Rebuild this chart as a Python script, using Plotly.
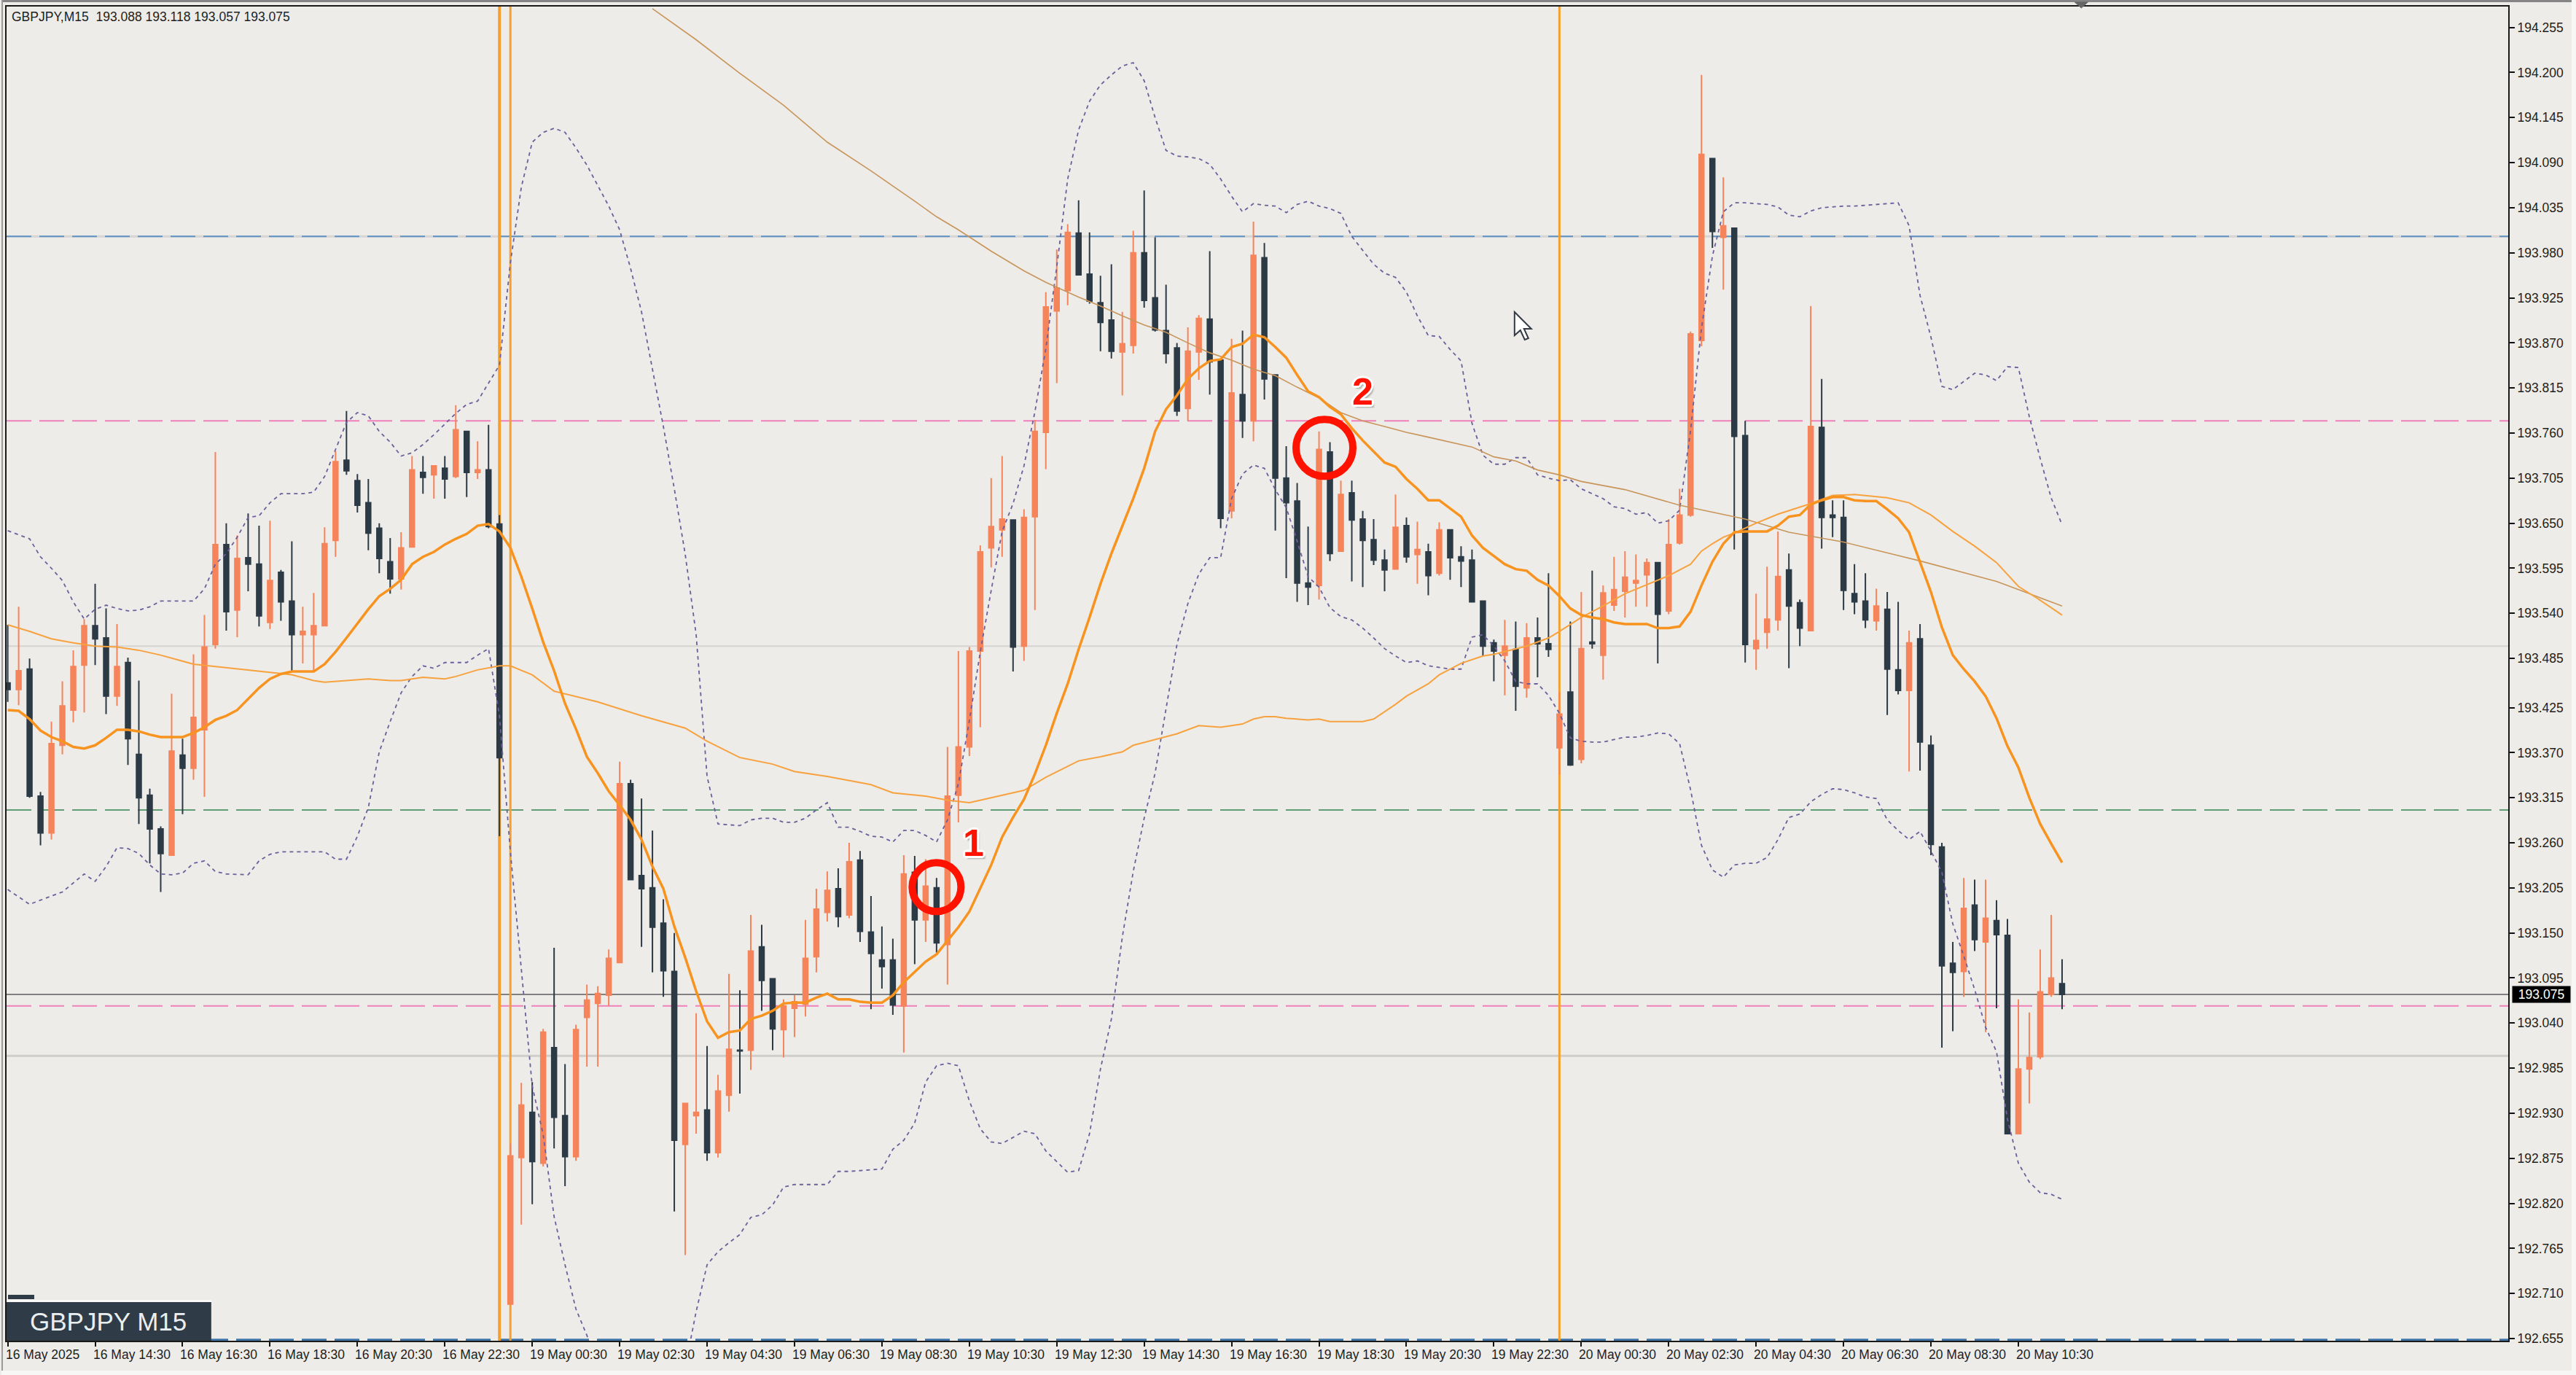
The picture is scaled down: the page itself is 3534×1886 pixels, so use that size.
import plotly.graph_objects as go

W, H = 3534, 1886
ML, MR, MT, MB = 7, 93, 9, 47

opens = [
193.455,193.447,193.472,193.317,193.272,193.379,193.422,193.477,193.525,193.510,
193.439,193.480,193.368,193.318,193.277,193.245,193.367,193.351,193.398,193.502,
193.624,193.544,193.608,193.600,193.529,193.590,193.555,193.514,193.514,193.525,
193.629,193.727,193.702,193.675,193.644,193.603,193.582,193.621,193.712,193.709,
193.717,193.707,193.762,193.712,193.715,193.649,192.697,192.876,192.931,192.869,
193.010,192.927,192.877,193.047,193.064,193.074,193.114,193.332,193.220,193.205,
193.162,193.103,192.892,192.927,192.934,192.882,192.952,193.007,193.007,193.133,
193.094,193.032,193.058,193.063,193.121,193.175,193.204,193.172,193.239,193.151,
193.117,193.117,193.061,193.224,193.166,193.205,193.136,193.318,193.377,193.494,
193.620,193.642,193.654,193.500,193.658,193.761,193.909,193.934,194.004,193.954,
193.919,193.898,193.859,193.867,193.980,193.925,193.885,193.864,193.790,193.859,
193.899,193.849,193.665,193.807,193.775,193.974,193.831,193.705,193.677,193.577,
193.574,193.737,193.616,193.687,193.655,193.630,193.605,193.594,193.647,193.612,
193.615,193.589,193.642,193.609,193.605,193.555,193.504,193.489,193.496,193.449,
193.510,193.503,193.376,193.444,193.362,193.505,193.489,193.550,193.567,193.577,
193.587,193.602,193.543,193.626,193.660,193.873,194.095,193.999,194.010,193.757,
193.497,193.517,193.532,193.593,193.553,193.519,193.767,193.660,193.657,193.564,
193.555,193.531,193.545,193.471,193.446,193.509,193.379,193.255,193.113,193.103,
193.184,193.139,193.165,193.147,192.905,192.984,192.999,193.075,193.088]
highs = [
193.526,193.548,193.485,193.322,193.408,193.457,193.495,193.533,193.576,193.546,
193.527,193.486,193.458,193.326,193.280,193.442,193.387,193.490,193.538,193.737,
193.650,193.635,193.662,193.647,193.653,193.593,193.628,193.548,193.565,193.645,
193.738,193.787,193.710,193.704,193.650,193.632,193.639,193.732,193.732,193.720,
193.732,193.794,193.762,193.750,193.770,193.660,192.893,192.967,192.968,193.033,
193.132,192.990,193.038,193.087,193.085,193.130,193.359,193.337,193.314,193.275,
193.191,193.150,192.942,193.052,193.012,192.977,193.100,193.080,193.172,193.160,
193.094,193.069,193.074,193.166,193.204,193.225,193.229,193.260,193.250,193.195,
193.158,193.143,193.245,193.244,193.240,193.217,193.377,193.494,193.499,193.623,
193.705,193.732,193.654,193.667,193.776,193.932,193.984,194.015,194.044,194.005,
193.952,193.966,193.908,194.007,194.056,193.999,193.941,193.870,193.889,193.904,
193.982,193.849,193.875,193.885,194.018,193.992,193.831,193.744,193.699,193.646,
193.762,193.749,193.702,193.702,193.665,193.655,193.618,193.685,193.657,193.652,
193.625,193.651,193.642,193.622,193.618,193.555,193.508,193.532,193.530,193.528,
193.535,193.589,193.444,193.530,193.566,193.592,193.574,193.609,193.616,193.612,
193.607,193.602,193.655,193.692,193.884,194.197,194.095,194.072,194.010,193.775,
193.564,193.597,193.640,193.613,193.557,193.915,193.826,193.678,193.678,193.600,
193.589,193.570,193.566,193.554,193.519,193.527,193.391,193.260,193.139,193.217,
193.215,193.215,193.190,193.167,193.069,193.053,193.130,193.172,193.118]
lows = [
193.432,193.428,193.315,193.257,193.264,193.368,193.407,193.419,193.477,193.417,
193.427,193.355,193.283,193.235,193.200,193.244,193.295,193.337,193.316,193.497,
193.519,193.511,193.567,193.524,193.521,193.531,193.469,193.479,193.469,193.525,
193.609,193.709,193.663,193.617,193.589,193.564,193.569,193.621,193.686,193.680,
193.680,193.705,193.682,193.704,193.644,193.268,192.697,192.794,192.819,192.865,
192.887,192.841,192.872,192.987,192.987,193.061,193.114,193.215,193.133,193.102,
193.072,192.810,192.757,192.905,192.872,192.876,192.932,192.954,192.983,193.055,
193.007,192.998,193.023,193.048,193.102,193.164,193.157,193.168,193.139,193.057,
193.082,193.050,193.004,193.112,193.139,193.126,193.087,193.285,193.366,193.401,
193.596,193.609,193.469,193.482,193.544,193.716,193.821,193.916,193.953,193.918,
193.860,193.851,193.806,193.857,193.913,193.884,193.845,193.781,193.775,193.825,
193.807,193.644,193.656,193.754,193.750,193.801,193.641,193.583,193.554,193.550,
193.557,193.604,193.616,193.579,193.572,193.599,193.567,193.594,193.602,193.576,
193.562,193.586,193.581,193.572,193.554,193.488,193.457,193.440,193.421,193.437,
193.462,193.487,193.343,193.354,193.357,193.497,193.459,193.543,193.535,193.548,
193.548,193.479,193.539,193.624,193.658,193.866,193.986,193.935,193.618,193.480,
193.471,193.497,193.519,193.473,193.500,193.519,193.619,193.633,193.544,193.539,
193.522,193.519,193.416,193.441,193.347,193.348,193.245,193.010,193.030,193.072,
193.128,193.029,193.058,192.905,192.905,192.942,192.996,193.072,193.057]
closes = [
193.447,193.470,193.317,193.272,193.381,193.427,193.475,193.525,193.509,193.439,
193.475,193.387,193.315,193.277,193.247,193.372,193.351,193.413,193.499,193.624,
193.542,193.607,193.600,193.537,193.580,193.554,193.514,193.518,193.525,193.625,
193.725,193.714,193.672,193.638,193.607,193.582,193.620,193.715,193.706,193.720,
193.704,193.764,193.712,193.715,193.646,193.364,192.878,192.940,192.871,193.029,
192.925,192.877,193.032,193.068,193.076,193.119,193.332,193.215,193.204,193.157,
193.104,192.897,192.942,192.931,192.882,192.957,193.008,193.006,193.128,193.092,
193.033,193.061,193.066,193.119,193.179,193.202,193.170,193.237,193.152,193.125,
193.109,193.062,193.222,193.166,193.207,193.138,193.317,193.377,193.494,193.615,
193.646,193.655,193.499,193.657,193.762,193.914,193.937,194.005,193.953,193.921,
193.895,193.860,193.869,193.980,193.922,193.886,193.857,193.787,193.860,193.900,
193.847,193.656,193.809,193.775,193.977,193.826,193.705,193.675,193.577,193.572,
193.740,193.613,193.685,193.654,193.629,193.605,193.593,193.645,193.609,193.618,
193.586,193.642,193.608,193.604,193.554,193.500,193.494,193.500,193.451,193.510,
193.503,193.496,193.417,193.355,193.497,193.503,193.565,193.569,193.584,193.580,
193.602,193.539,193.624,193.660,193.881,194.100,194.006,194.013,193.756,193.502,
193.507,193.533,193.585,193.549,193.522,193.768,193.657,193.657,193.568,193.554,
193.532,193.549,193.472,193.446,193.504,193.383,193.258,193.110,193.102,193.180,
193.142,193.168,193.148,192.905,192.984,192.998,193.078,193.095,193.075]

ma_fast = [
193.422,193.421,193.411,193.397,193.389,193.384,193.377,193.375,193.379,193.388,
193.398,193.398,193.396,193.392,193.389,193.389,193.389,193.394,193.401,193.410,
193.415,193.422,193.436,193.449,193.460,193.466,193.469,193.469,193.469,193.478,
193.493,193.510,193.528,193.545,193.561,193.570,193.581,193.600,193.609,193.615,
193.624,193.631,193.637,193.647,193.649,193.640,193.620,193.585,193.546,193.505,
193.470,193.430,193.399,193.365,193.345,193.323,193.306,193.288,193.264,193.231,
193.204,193.158,193.120,193.079,193.042,193.022,193.029,193.031,193.045,193.049,
193.055,193.064,193.065,193.065,193.071,193.076,193.069,193.069,193.066,193.065,
193.065,193.074,193.090,193.103,193.115,193.124,193.140,193.157,193.176,193.204,
193.233,193.267,193.291,193.313,193.344,193.379,193.418,193.454,193.496,193.535,
193.576,193.613,193.647,193.680,193.717,193.762,193.789,193.806,193.826,193.839,
193.848,193.850,193.865,193.869,193.880,193.877,193.865,193.852,193.831,193.811,
193.804,193.792,193.783,193.766,193.751,193.737,193.724,193.719,193.704,193.692,
193.678,193.678,193.668,193.658,193.635,193.620,193.610,193.600,193.594,193.592,
193.581,193.574,193.561,193.546,193.538,193.535,193.533,193.529,193.527,193.527,
193.527,193.522,193.522,193.524,193.542,193.574,193.603,193.625,193.639,193.640,
193.640,193.640,193.647,193.658,193.660,193.673,193.678,193.682,193.682,193.678,
193.677,193.677,193.667,193.656,193.639,193.602,193.566,193.523,193.489,193.472,
193.457,193.439,193.412,193.378,193.352,193.315,193.283,193.259,193.236]

ma_mid_bar = [0,2,4,6,8,10,12,14,17,20,22,24,26,28,29,31,33,35,36,38,40,41,43,45,46,48,50,54,58,62,64,67,70,72,75,79,81,84,86,88,91,93,95,98,100,102,103,105,107,109,111,113,114,115,116,117,118,119,120,121,124,125,127,128,130,131,133,135,136,138,139,141,142,144,146,148,150,152,154,155,156,157,158,160,162,165,167,169,172,174,176,178,180,182,184,186,188]
ma_mid = [193.526,193.518,193.509,193.504,193.500,193.499,193.495,193.489,193.478,193.474,193.471,193.468,193.465,193.458,193.456,193.458,193.460,193.458,193.458,193.462,193.460,193.463,193.471,193.476,193.476,193.465,193.445,193.432,193.415,193.400,193.384,193.364,193.356,193.347,193.341,193.331,193.321,193.317,193.312,193.309,193.318,193.324,193.340,193.360,193.365,193.371,193.379,193.386,193.393,193.403,193.401,193.405,193.411,193.414,193.414,193.412,193.411,193.410,193.411,193.408,193.408,193.411,193.429,193.439,193.454,193.465,193.479,193.488,193.490,193.497,193.500,193.510,193.518,193.535,193.549,193.564,193.575,193.586,193.600,193.616,193.625,193.633,193.638,193.650,193.661,193.674,193.684,193.685,193.681,193.675,193.660,193.640,193.622,193.602,193.573,193.556,193.538]

ma_long_bar = [59,63,67,71,75,79,83,85,87,90,93,95,98,100,102,104,106,108,110,112,114,116,118,120,122,124,126,128,130,132,134,136,138,140,142,144,148,153,159,163,168,175,182,185,188]
ma_long = [194.278,194.240,194.199,194.160,194.115,194.080,194.043,194.024,194.008,193.982,193.958,193.944,193.926,193.915,193.903,193.892,193.883,193.870,193.858,193.849,193.838,193.830,193.816,193.803,193.785,193.775,193.768,193.761,193.755,193.749,193.743,193.731,193.726,193.715,193.709,193.701,193.691,193.672,193.655,193.639,193.627,193.604,193.579,193.564,193.549]

bb_up_bar = [0,2,3,4,5,6,7,8,9,10,11,12,13,14,17,18,19,20,21,22,23,24,25,27,28,29,30,31,32,33,34,35,36,37,38,39,40,41,42,43,45,46,47,48,49,50,51,52,53,54,55,56,57,58,59,60,61,62,63,64,65,66,67,68,69,70,71,72,73,74,75,76,77,78,79,80,81,82,83,84,85,86,87,88,89,90,91,92,93,94,95,96,97,98,99,100,101,102,103,104,105,106,107,108,109,110,111,112,113,114,115,116,117,118,119,120,121,122,123,124,125,126,127,128,129,130,131,132,133,134,135,136,137,138,139,140,141,142,143,144,145,146,147,148,149,150,151,152,153,154,155,156,157,158,159,160,161,162,163,164,165,166,167,168,169,170,171,172,173,174,175,176,177,178,179,180,181,182,183,184,185,186,187,188]
bb_up = [193.641,193.631,193.609,193.595,193.580,193.554,193.533,193.545,193.550,193.546,193.543,193.544,193.548,193.555,193.555,193.570,193.600,193.613,193.633,193.657,193.659,193.675,193.686,193.686,193.688,193.707,193.740,193.773,193.785,193.781,193.762,193.749,193.732,193.736,193.746,193.758,193.771,193.784,193.795,193.799,193.843,193.968,194.060,194.115,194.127,194.132,194.127,194.108,194.087,194.062,194.037,194.008,193.961,193.908,193.839,193.768,193.692,193.612,193.514,193.341,193.283,193.282,193.281,193.288,193.290,193.290,193.285,193.285,193.290,193.300,193.309,193.279,193.279,193.274,193.268,193.267,193.261,193.275,193.275,193.269,193.261,193.288,193.332,193.409,193.493,193.568,193.640,193.674,193.720,193.786,193.863,193.963,194.070,194.130,194.165,194.185,194.197,194.208,194.212,194.190,194.145,194.105,194.098,194.097,194.095,194.088,194.070,194.049,194.030,194.040,194.038,194.037,194.029,194.039,194.043,194.037,194.034,194.028,194.000,193.983,193.966,193.955,193.950,193.932,193.903,193.879,193.878,193.862,193.848,193.772,193.733,193.722,193.722,193.730,193.730,193.709,193.705,193.702,193.703,193.692,193.686,193.680,193.670,193.668,193.661,193.663,193.650,193.653,193.666,193.763,193.888,193.976,194.030,194.041,194.041,194.040,194.039,194.036,194.026,194.024,194.031,194.035,194.036,194.037,194.037,194.038,194.039,194.040,194.041,194.013,193.928,193.877,193.817,193.813,193.823,193.833,193.831,193.824,193.841,193.840,193.780,193.729,193.681,193.648]

bb_lo_bar = [0,2,3,5,7,8,9,10,11,12,13,14,15,16,17,18,19,20,22,23,24,25,29,30,31,32,33,34,35,36,37,38,39,40,42,43,44,45,46,47,48,49,50,51,52,53,54,58,62,63,64,65,66,67,68,69,70,71,72,74,75,76,77,79,80,81,82,83,84,85,86,87,88,89,90,91,93,94,95,97,98,99,100,101,102,103,104,105,106,107,108,109,110,111,112,113,114,115,116,117,118,119,120,121,122,123,124,125,126,127,128,129,130,131,132,133,134,135,136,137,138,139,140,141,142,143,144,145,146,147,148,149,150,151,152,153,154,155,156,157,158,159,160,161,162,163,164,165,166,167,168,169,170,171,172,173,174,175,176,177,178,179,180,181,182,183,184,185,186,187,188]
bb_lo = [193.203,193.185,193.190,193.200,193.222,193.213,193.231,193.254,193.253,193.247,193.233,193.222,193.221,193.223,193.235,193.238,193.225,193.222,193.221,193.238,193.246,193.249,193.249,193.240,193.240,193.268,193.303,193.371,193.408,193.443,193.463,193.476,193.473,193.480,193.480,193.489,193.497,193.415,193.249,193.108,192.963,192.904,192.804,192.745,192.691,192.659,192.620,None,192.620,192.688,192.745,192.761,192.772,192.782,192.803,192.806,192.818,192.840,192.843,192.843,192.843,192.859,192.859,192.861,192.862,192.886,192.897,192.918,192.968,192.988,192.991,192.988,192.945,192.911,192.895,192.893,192.908,192.905,192.884,192.858,192.860,192.905,192.984,193.045,193.145,193.225,193.290,193.345,193.422,193.502,193.552,193.588,193.608,193.608,193.680,193.710,193.721,193.717,193.691,193.669,193.628,193.585,193.572,193.547,193.536,193.532,193.522,193.510,193.497,193.488,193.480,193.482,193.476,193.474,193.472,193.472,193.511,193.514,193.500,193.482,193.457,193.454,193.454,193.440,193.418,193.388,193.384,193.383,193.383,193.386,193.389,193.389,193.391,193.394,193.393,193.381,193.325,193.257,193.227,193.218,193.233,193.235,193.235,193.242,193.264,193.291,193.295,193.310,193.319,193.326,193.325,193.321,193.316,193.314,193.288,193.275,193.264,193.274,193.250,193.224,193.161,193.122,193.081,193.035,193.005,192.923,192.869,192.846,192.833,192.831,192.825]

price_ticks = [194.255,194.200,194.145,194.090,194.035,193.980,193.925,193.870,193.815,193.760,193.705,193.650,193.595,193.540,193.485,193.425,193.370,193.315,193.260,193.205,193.150,193.095,193.040,192.985,192.930,192.875,192.820,192.765,192.710,192.655]
time_tick_bars = list(range(0, 185, 8))
time_labels = ["16 May 2025","16 May 14:30","16 May 16:30","16 May 18:30","16 May 20:30","16 May 22:30",
 "19 May 00:30","19 May 02:30","19 May 04:30","19 May 06:30","19 May 08:30","19 May 10:30","19 May 12:30",
 "19 May 14:30","19 May 16:30","19 May 18:30","19 May 20:30","19 May 22:30","20 May 00:30","20 May 02:30",
 "20 May 04:30","20 May 06:30","20 May 08:30","20 May 10:30"]
session_bars = [45, 46, 142]
session_widths = [4, 3, 3]
last_price = 193.075
header = "GBPJPY,M15  193.088 193.118 193.057 193.075"
badge = "GBPJPY M15"
marked_bars = [85.0, 120.5]
marked_prices = [193.206, 193.742]
marked_dia = [67, 78]
marked_labels = ["1", "2"]
marked_label_bars = [88.4, 124.0]
marked_label_prices = [193.260, 193.811]

n = len(opens)
assert n == 189 and len(highs) == n and len(lows) == n and len(closes) == n and len(ma_fast) == n
assert len(ma_mid_bar) == len(ma_mid) and len(ma_long_bar) == len(ma_long)
assert len(bb_up_bar) == len(bb_up), (len(bb_up_bar), len(bb_up))
assert len(bb_lo_bar) == len(bb_lo), (len(bb_lo_bar), len(bb_lo))
bars = list(range(n))

UP, DOWN = "#F6845B", "#2C3A46"
BG = "#EDECE8"
FONT = "Liberation Sans"

fig = go.Figure()
fig.add_trace(go.Candlestick(x=bars, open=opens, high=highs, low=lows, close=closes,
    increasing=dict(line=dict(color=UP, width=2), fillcolor=UP),
    decreasing=dict(line=dict(color=DOWN, width=2), fillcolor=DOWN),
    hoverinfo="skip", showlegend=False))
BB = dict(color="#6E5F9C", width=1.8, dash="5px,5px")
fig.add_trace(go.Scatter(x=bb_up_bar, y=bb_up, mode="lines", line=BB, hoverinfo="skip", showlegend=False))
fig.add_trace(go.Scatter(x=bb_lo_bar, y=bb_lo, mode="lines", line=BB, hoverinfo="skip", showlegend=False))
fig.add_trace(go.Scatter(x=ma_long_bar, y=ma_long, mode="lines", line=dict(color="#C8955A", width=1.6), hoverinfo="skip", showlegend=False))
fig.add_trace(go.Scatter(x=ma_mid_bar, y=ma_mid, mode="lines", line=dict(color="#F7A23E", width=2), hoverinfo="skip", showlegend=False))
fig.add_trace(go.Scatter(x=bars, y=ma_fast, mode="lines", line=dict(color="#F7931E", width=3.5), hoverinfo="skip", showlegend=False))

def fx(px): return (px - ML) / (W - ML - MR)
def fy(px): return 1 - (px - MT) / (H - MT - MB)

shapes = []
def hline(y, color, width, dash=None):
    shapes.append(dict(type="line", xref="paper", x0=0, x1=1, yref="y", y0=y, y1=y, layer="below",
                       line=dict(color=color, width=width, dash=dash or "solid")))
DASH = "34px,11px"
hline(194.0, "#D6D5D3", 3)
hline(194.0, "#5F93C4", 2, DASH)
hline(193.775, "#EF80BA", 2, DASH)
hline(193.5, "#D5D4D1", 2)
hline(193.3, "#5E9D76", 2, DASH)
hline(last_price, "#808080", 2)
hline(193.061, "#EF80BA", 2, DASH)
hline(193.0, "#CFCECB", 3)
hline(192.6535, "#3E74A8", 3, DASH)
for b, w in zip(session_bars, session_widths):
    shapes.append(dict(type="line", xref="x", x0=b, x1=b, yref="paper", y0=0, y1=1, layer="below",
                       line=dict(color="#F5A02E", width=w)))
for b, p, d in zip(marked_bars, marked_prices, marked_dia):
    shapes.append(dict(type="circle", xref="x", yref="y", xsizemode="pixel", ysizemode="pixel",
                       xanchor=b, yanchor=p, x0=-d/2, x1=d/2, y0=-d/2, y1=d/2,
                       line=dict(color="#FF1200", width=10), layer="above"))
def rect(x0, y0, x1, y1, fill):
    shapes.append(dict(type="rect", xref="paper", yref="paper", x0=fx(x0), x1=fx(x1), y0=fy(y0), y1=fy(y1),
                       fillcolor=fill, line=dict(width=0), layer="above"))
rect(0, 0, W, 3, "#858585")
rect(0, 0, 2, H, "#9A9A9A")
rect(0, 1880, W, H, "#F7F7F6")
rect(3528, 0, W, H, "#F7F7F6")
rect(7, 1783, 288, 1786, "#F8F8F7")
rect(7, 1786, 288, 1839, "#2F3B47")
rect(9, 1776, 45, 1782, "#2F3B47")
def poly(points, fill, outline, width):
    d = "M " + " L ".join(f"{fx(a):.5f},{fy(b):.5f}" for a, b in points) + " Z"
    shapes.append(dict(type="path", xref="paper", yref="paper", path=d, fillcolor=fill,
                       line=dict(color=outline, width=width), layer="above"))
poly([(2846,3),(2864,3),(2855,11)], "#666666", "#666666", 1)
poly([(2077,428),(2077,460),(2085,453),(2091,466),(2096,464),(2090,451),(2100,451)], "#FFFFFF", "#333B45", 2)

annotations = []
for b, t in zip(time_tick_bars, time_labels):
    annotations.append(dict(x=b, xref="x", xanchor="left", xshift=-5, y=fy(1858), yref="paper", yanchor="middle",
                            text=t, showarrow=False, font=dict(family=FONT, size=17.5, color="#1E1E1E")))
annotations.append(dict(x=fx(12), xref="paper", xanchor="left", y=fy(23), yref="paper", yanchor="middle",
                        text=header.replace("  ", "&nbsp;&nbsp;"), showarrow=False, font=dict(family=FONT, size=17.5, color="#1E1E1E")))
annotations.append(dict(x=fx(147), xref="paper", xanchor="center", y=fy(1812), yref="paper", yanchor="middle",
                        text=badge, showarrow=False, font=dict(family=FONT, size=35, color="#E9EEF1")))
annotations.append(dict(x=fx(3446), xref="paper", xanchor="left", y=last_price, yref="y", yanchor="middle",
                        text=f"{last_price:.3f}", showarrow=False, bgcolor="#000000", width=77, height=20,
                        font=dict(family=FONT, size=17.5, color="#FFFFFF")))
OUTLINE = "3px 0 0 #fff,-3px 0 0 #fff,0 3px 0 #fff,0 -3px 0 #fff,2px 2px 0 #fff,-2px -2px 0 #fff,2px -2px 0 #fff,-2px 2px 0 #fff,3px 4px 2px #aaa"
for b, p, t in zip(marked_label_bars, marked_label_prices, marked_labels):
    annotations.append(dict(x=b, y=p, xref="x", yref="y", text=t, showarrow=False, xanchor="center", yanchor="middle",
                            font=dict(family=FONT, size=52, color="#FF1200", weight="bold", shadow=OUTLINE)))

fig.update_layout(
    width=W, height=H, autosize=False,
    margin=dict(l=ML, r=MR, t=MT, b=MB, pad=0),
    paper_bgcolor=BG, plot_bgcolor=BG,
    showlegend=False, boxgap=0.38,
    shapes=shapes, annotations=annotations,
    xaxis=dict(range=[(ML - 8.6) / 15, (W - MR - 8.6) / 15], rangeslider=dict(visible=False),
               tickmode="array", tickvals=time_tick_bars, showticklabels=False,
               ticks="outside", ticklen=6, tickwidth=2, tickcolor="#111111",
               showgrid=False, zeroline=False, showline=True, linecolor="#1A1A1A", linewidth=2, mirror=True),
    yaxis=dict(range=[194.2885 - (H - MB) * 0.00088968, 194.2885 - MT * 0.00088968], side="right",
               tickmode="array", tickvals=price_ticks, ticktext=[f"{v:.3f}" for v in price_ticks],
               ticks="outside", ticklen=7, tickwidth=2, tickcolor="#111111",
               tickfont=dict(family=FONT, size=17.5, color="#1E1E1E"),
               showgrid=False, zeroline=False, showline=True, linecolor="#1A1A1A", linewidth=2, mirror=True),
)
fig.write_html("out.html", config={"displayModeBar": False},
               post_script="document.body.style.margin='0';document.body.style.overflow='hidden';")
